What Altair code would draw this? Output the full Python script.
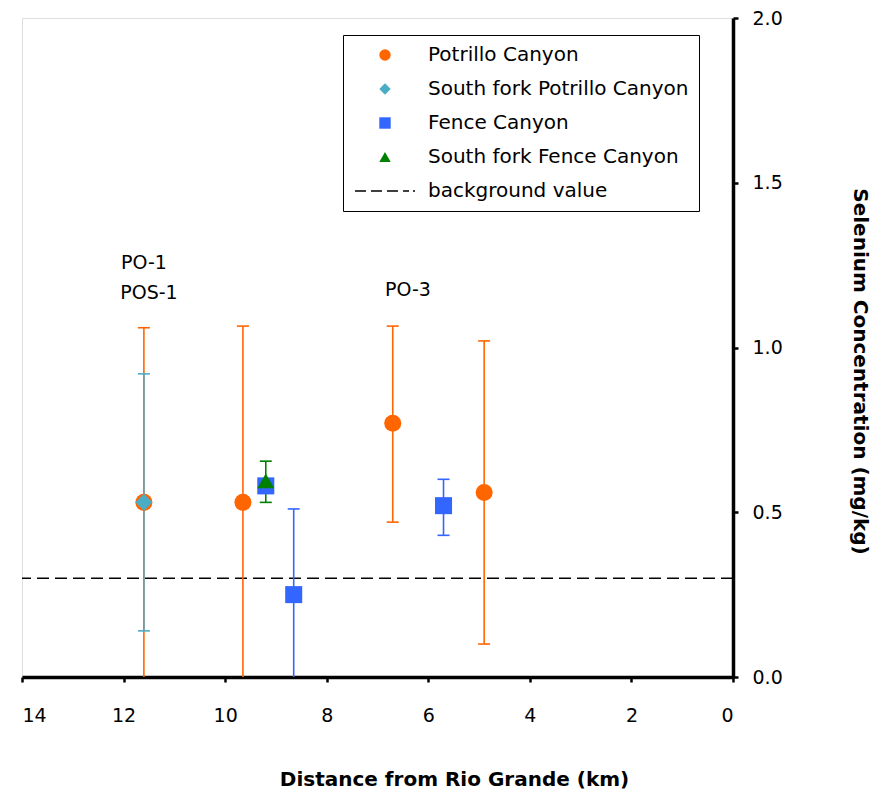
import altair as alt
import pandas as pd

# ---- data ----
legend_labels = ["Potrillo Canyon", "South fork Potrillo Canyon", "Fence Canyon",
                 "South fork Fence Canyon", "background value"]
series_colors = ["#FF6600", "#4BACC6", "#3366FF", "#008000", "#000000"]

series = ["Potrillo Canyon"] * 4 + ["South fork Potrillo Canyon"] + ["Fence Canyon"] * 3 + ["South fork Fence Canyon"]
distance_km = [11.6, 9.65, 6.7, 4.9, 11.6, 9.2, 8.65, 5.7, 9.2]
selenium = [0.53, 0.53, 0.77, 0.56, 0.53, 0.58, 0.25, 0.52, 0.595]
err_low = [-0.05, -0.05, 0.47, 0.10, 0.14, None, -0.05, 0.43, 0.53]
err_high = [1.06, 1.065, 1.065, 1.02, 0.92, None, 0.51, 0.60, 0.655]

background_value = [0.3]

annot_text = ["PO-1", "POS-1", "PO-3"]
annot_x = [11.6, 11.5, 6.4]
annot_y = [1.255, 1.165, 1.175]

x_ticks = [0, 2, 4, 6, 8, 10, 12, 14]
y_ticks = [0.0, 0.5, 1.0, 1.5, 2.0]

# legend dashed-line glyph (filled dash segments, symbol units)
dash_path = ("M-5.26,-0.15H-3.33V0.15H-5.26Z M-2.46,-0.15H-0.53V0.15H-2.46Z "
             "M0.35,-0.15H2.28V0.15H0.35Z M3.16,-0.15H4.21V0.15H3.16Z M4.91,-0.15H5.26V0.15H4.91Z")
shapes = ["circle", "diamond", "square", "triangle-up", dash_path]

FONT = "DejaVu Sans"
color_of = dict(zip(legend_labels, series_colors))

df = pd.DataFrame({"series": series, "distance": distance_km, "se": selenium,
                   "low": err_low, "high": err_high})
df["col"] = df["series"].map(color_of)
df_err = df.dropna(subset=["low", "high"])
bg = pd.DataFrame({"bg": background_value})
ann = pd.DataFrame({"t": annot_text, "x": annot_x, "y": annot_y})

x_scale = alt.Scale(domain=[0, 14], reverse=True, nice=False, zero=False)
y_scale = alt.Scale(domain=[0, 2], nice=False)

x_axis = alt.Axis(values=x_ticks, title="Distance from Rio Grande (km)", grid=False,
                  tickSize=5, tickWidth=2.5, tickColor="black", domainColor="black",
                  domainWidth=3.5, labelFontSize=19, labelPadding=24, labelColor="black",
                  labelFont=FONT, titleFont=FONT, titleFontSize=20, titleFontWeight="bold",
                  titleColor="black", titleX=432, titleY=102, titleBaseline="middle",
                  titleAlign="center")
y_axis = alt.Axis(values=y_ticks, format=".1f", orient="right",
                  title="Selenium Concentration (mg/kg)", grid=False,
                  tickSize=5, tickWidth=2.5, tickColor="black", domainColor="black",
                  domainWidth=3.5, labelFontSize=19, labelPadding=14, labelColor="black",
                  labelFont=FONT, titleFont=FONT, titleFontSize=20, titleFontWeight="bold",
                  titleColor="black", titleAngle=90, titleX=126, titleY=353,
                  titleBaseline="middle", titleAlign="center")

X = alt.X("distance:Q", scale=x_scale, axis=x_axis)
Y = alt.Y("se:Q", scale=y_scale, axis=y_axis)

legend = alt.Legend(title=None, orient="none", legendX=321, legendY=17,
                    strokeColor="black", fillColor="white", padding=10,
                    symbolSize=130, symbolStrokeWidth=0, symbolOffset=22,
                    labelFont=FONT, labelFontSize=20, labelColor="black",
                    labelOffset=33, labelLimit=0, rowPadding=14, symbolOpacity=1)

bg_line = alt.Chart(bg).mark_rule(strokeDash=[12, 6], strokeWidth=1.5, color="black").encode(
    y=alt.Y("bg:Q", scale=y_scale, axis=y_axis))

err_rules = alt.Chart(df_err).mark_rule(strokeWidth=1.6, clip=True, opacity=1).encode(
    x=X, y=alt.Y("low:Q", scale=y_scale, axis=y_axis), y2="high:Q",
    color=alt.Color("col:N", scale=None))

caps_hi = alt.Chart(df_err).mark_tick(orient="horizontal", size=12, thickness=1.6,
                                      clip=True, opacity=1).encode(
    x=X, y=alt.Y("high:Q", scale=y_scale, axis=y_axis), color=alt.Color("col:N", scale=None))
caps_lo = alt.Chart(df_err).mark_tick(orient="horizontal", size=12, thickness=1.6,
                                      clip=True, opacity=1).encode(
    x=X, y=alt.Y("low:Q", scale=y_scale, axis=y_axis), color=alt.Color("col:N", scale=None))

points = alt.Chart(df).mark_point(filled=True, size=290, opacity=1, strokeWidth=0).encode(
    x=X, y=Y,
    color=alt.Color("series:N", scale=alt.Scale(domain=legend_labels, range=series_colors),
                    legend=legend),
    shape=alt.Shape("series:N", scale=alt.Scale(domain=legend_labels, range=shapes),
                    legend=legend),
)

labels = alt.Chart(ann).mark_text(font=FONT, fontSize=19, color="black",
                                  align="center", baseline="middle").encode(
    x=alt.X("x:Q", scale=x_scale, axis=x_axis), y=alt.Y("y:Q", scale=y_scale, axis=y_axis),
    text="t:N")

chart = alt.layer(bg_line, err_rules, caps_hi, caps_lo, points, labels).properties(
    width=711, height=659,
    padding={"left": 14, "top": 10, "right": 143, "bottom": 112},
    autosize=alt.AutoSizeParams(type="none"),
).configure_view(stroke="black", strokeWidth=2).configure(font=FONT)

chart.save("out.html", embed_options={"renderer": "svg", "actions": False})
